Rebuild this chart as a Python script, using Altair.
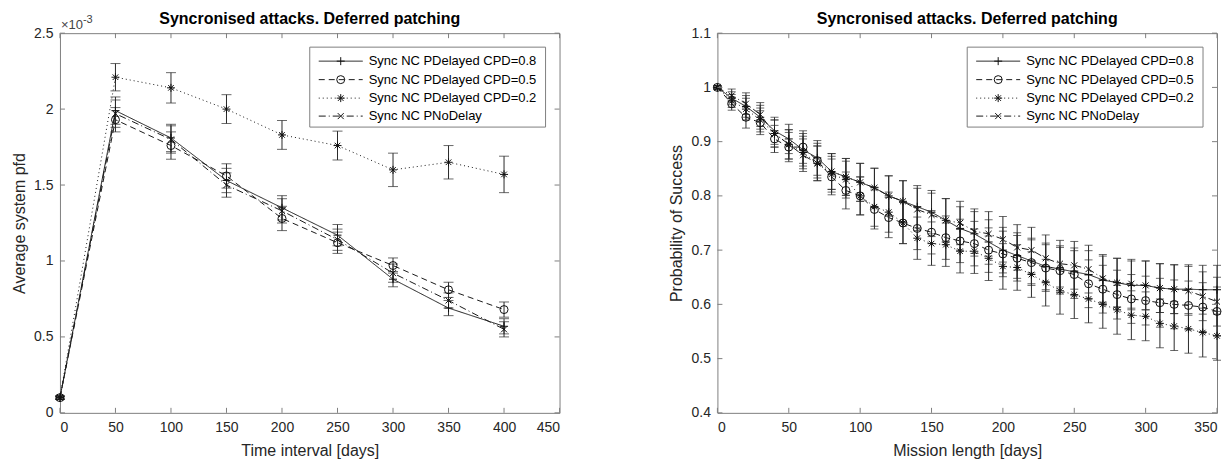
import altair as alt
import pandas as pd

FONT = "Liberation Sans"
TXT = "#262626"
AXC = "#808080"

SERIES = ["Sync NC PDelayed CPD=0.8", "Sync NC PDelayed CPD=0.5",
          "Sync NC PDelayed CPD=0.2", "Sync NC PNoDelay"]
SHAPES = ["M-1,0L1,0M0,-1L0,1", "circle",
          "M-1,0L1,0M0,-1L0,1M-0.7,-0.7L0.7,0.7M-0.7,0.7L0.7,-0.7",
          "M-0.75,-0.75L0.75,0.75M-0.75,0.75L0.75,-0.75"]
DASHES = [[1, 0], [6, 4], [1, 3], [7, 3, 1, 3]]

# ---------------- left panel (values x 1e-3) ----------------
L_X = [0, 50, 100, 150, 200, 250, 300, 350, 400]
L_CPD08 = [0.10, 1.99, 1.81, 1.53, 1.35, 1.17, 0.88, 0.69, 0.57]
L_CPD05 = [0.10, 1.93, 1.76, 1.56, 1.28, 1.12, 0.97, 0.81, 0.68]
L_CPD02 = [0.10, 2.21, 2.14, 2.00, 1.83, 1.76, 1.60, 1.65, 1.57]
L_NODEL = [0.10, 1.97, 1.80, 1.50, 1.33, 1.14, 0.92, 0.74, 0.55]
L_CPD08_ERR = [0.01, 0.09, 0.09, 0.08, 0.08, 0.07, 0.05, 0.05, 0.05]
L_CPD05_ERR = [0.01, 0.08, 0.09, 0.08, 0.08, 0.07, 0.05, 0.05, 0.05]
L_CPD02_ERR = [0.01, 0.09, 0.10, 0.095, 0.095, 0.095, 0.11, 0.11, 0.12]
L_NODEL_ERR = [0.01, 0.09, 0.09, 0.08, 0.08, 0.07, 0.06, 0.05, 0.05]
L_XTICKS = [0, 50, 100, 150, 200, 250, 300, 350, 400, 450]
L_YTICKS = [0, 0.5, 1, 1.5, 2, 2.5]

# ---------------- right panel ----------------
R_X = [0, 10, 20, 30, 40, 50, 60, 70, 80, 90, 100, 110, 120, 130, 140, 150, 160, 170,
       180, 190, 200, 210, 220, 230, 240, 250, 260, 270, 280, 290, 300, 310, 320, 330, 340, 350]
R_CPD08 = [1.0, 0.98, 0.965, 0.945, 0.92, 0.905, 0.885, 0.87, 0.845, 0.835, 0.825, 0.815,
           0.80, 0.79, 0.78, 0.77, 0.755, 0.74, 0.73, 0.715, 0.70, 0.69, 0.68, 0.67, 0.665,
           0.66, 0.655, 0.645, 0.64, 0.635, 0.635, 0.63, 0.628, 0.628, 0.627, 0.627]
R_CPD05 = [1.0, 0.97, 0.945, 0.935, 0.905, 0.89, 0.89, 0.865, 0.835, 0.81, 0.80, 0.775,
           0.76, 0.75, 0.74, 0.733, 0.723, 0.717, 0.712, 0.70, 0.693, 0.685, 0.677, 0.667,
           0.662, 0.655, 0.638, 0.628, 0.618, 0.61, 0.607, 0.603, 0.60, 0.598, 0.595, 0.587]
R_CPD02 = [1.0, 0.975, 0.96, 0.94, 0.915, 0.895, 0.88, 0.86, 0.84, 0.83, 0.80, 0.78,
           0.77, 0.75, 0.722, 0.712, 0.71, 0.698, 0.698, 0.685, 0.67, 0.668, 0.655, 0.64,
           0.625, 0.618, 0.61, 0.60, 0.59, 0.58, 0.578, 0.565, 0.56, 0.555, 0.548, 0.542]
R_NODEL = [1.0, 0.985, 0.97, 0.95, 0.915, 0.895, 0.875, 0.86, 0.845, 0.835, 0.825, 0.815,
           0.80, 0.79, 0.775, 0.765, 0.755, 0.75, 0.735, 0.73, 0.72, 0.705, 0.70, 0.685,
           0.675, 0.672, 0.665, 0.648, 0.64, 0.638, 0.635, 0.63, 0.628, 0.625, 0.615, 0.605]
R_ERR = [0.003, 0.012, 0.02, 0.022, 0.025, 0.027, 0.03, 0.032, 0.033, 0.034, 0.035, 0.036,
         0.037, 0.038, 0.039, 0.04, 0.04, 0.04, 0.041, 0.041, 0.042, 0.042, 0.042, 0.043,
         0.043, 0.044, 0.044, 0.044, 0.045, 0.045, 0.045, 0.045, 0.045, 0.045, 0.045, 0.045]
R_XTICKS = [0, 50, 100, 150, 200, 250, 300, 350]
R_YTICKS = [0.4, 0.5, 0.6, 0.7, 0.8, 0.9, 1.0, 1.1]

TITLE = "Syncronised attacks. Deferred patching"
W, H = 500, 380


def frame(xs, ys_list, errs_list):
    rows = []
    for name, ys, es in zip(SERIES, ys_list, errs_list):
        for x, y, e in zip(xs, ys, es):
            rows.append({"series": name, "x": x, "y": y, "lo": y - e, "hi": y + e})
    return pd.DataFrame(rows)


def panel(df, xdom, ydom, xt, yt, xtitle, ytitle, capw, extra=()):
    xs = alt.Scale(domain=xdom, nice=False, zero=False)
    ys = alt.Scale(domain=ydom, nice=False, zero=False)
    xax = alt.Axis(values=xt, title=xtitle, format="d")
    yax = alt.Axis(values=yt, title=ytitle, format="~g")

    def X(f):
        return alt.X(f + ":Q", scale=xs, axis=xax)

    def Y(f):
        return alt.Y(f + ":Q", scale=ys, axis=yax)

    base = alt.Chart(df)
    lines = base.mark_line(strokeWidth=1, color="#1a1a1a").encode(
        x=X("x"), y=Y("y"),
        strokeDash=alt.StrokeDash("series:N", scale=alt.Scale(domain=SERIES, range=DASHES), legend=None),
    )
    rules = base.mark_rule(strokeWidth=1, color="#2a2a2a").encode(x=X("x"), y=Y("lo"), y2="hi:Q")
    cap_lo = base.mark_tick(orient="horizontal", size=capw, thickness=1, color="#2a2a2a").encode(x=X("x"), y=Y("lo"))
    cap_hi = base.mark_tick(orient="horizontal", size=capw, thickness=1, color="#2a2a2a").encode(x=X("x"), y=Y("hi"))
    pts = base.mark_point(filled=False, size=64, strokeWidth=1, color="#111111", opacity=1).encode(
        x=X("x"), y=Y("y"),
        shape=alt.Shape("series:N", scale=alt.Scale(domain=SERIES, range=SHAPES), legend=None),
    )

    tx = alt.Chart(pd.DataFrame({"t": xt}))
    ty = alt.Chart(pd.DataFrame({"t": yt}))
    tk = dict(color=AXC, strokeWidth=1)
    t1 = tx.mark_rule(**tk).encode(x=X("t"), y=alt.value(H), y2=alt.value(H - 5))
    t2 = tx.mark_rule(**tk).encode(x=X("t"), y=alt.value(0), y2=alt.value(5))
    t3 = ty.mark_rule(**tk).encode(y=Y("t"), x=alt.value(0), x2=alt.value(5))
    t4 = ty.mark_rule(**tk).encode(y=Y("t"), x=alt.value(W), x2=alt.value(W - 5))

    one = pd.DataFrame({"a": [0]})
    ttl = alt.Chart(pd.DataFrame({"title": [TITLE]})).mark_text(
        align="center", baseline="middle", font=FONT, fontSize=16, fontWeight="bold", color="#000000"
    ).encode(x=alt.value(W / 2), y=alt.value(-14), text="title:N")

    # legend
    leg = [alt.Chart(one).mark_rect(fill="white", stroke=AXC, strokeWidth=1).encode(
        x=alt.value(250), x2=alt.value(486), y=alt.value(14), y2=alt.value(94))]
    rows_y = [28, 46.5, 65, 83]
    for name, shp, dash, ry in zip(SERIES, SHAPES, DASHES, rows_y):
        d = alt.Chart(pd.DataFrame({"name": [name]}))
        leg.append(d.mark_rule(strokeWidth=1, color="#1a1a1a", strokeDash=dash).encode(
            x=alt.value(259), x2=alt.value(303), y=alt.value(ry)))
        leg.append(d.mark_point(filled=False, size=64, strokeWidth=1, color="#111111", opacity=1,
                                shape=shp).encode(x=alt.value(281), y=alt.value(ry)))
        leg.append(d.mark_text(align="left", baseline="middle", font=FONT, fontSize=13,
                               color="#000000").encode(x=alt.value(309), y=alt.value(ry), text="name:N"))

    return alt.layer(lines, rules, cap_lo, cap_hi, pts, t1, t2, t3, t4, *leg, ttl, *extra).properties(
        width=W, height=H,
    )


one = pd.DataFrame({"a": [0]})
exp1 = alt.Chart(one).mark_text(align="left", baseline="bottom", font=FONT, fontSize=13, color="#444444").encode(
    x=alt.value(1), y=alt.value(-1), text=alt.value("×10"))
exp2 = alt.Chart(one).mark_text(align="left", baseline="bottom", font=FONT, fontSize=11, color="#444444").encode(
    x=alt.value(23), y=alt.value(-8), text=alt.value("-3"))

left_df = frame(L_X, [L_CPD08, L_CPD05, L_CPD02, L_NODEL], [L_CPD08_ERR, L_CPD05_ERR, L_CPD02_ERR, L_NODEL_ERR])
right_df = frame(R_X, [R_CPD08, R_CPD05, R_CPD02, R_NODEL], [R_ERR] * 4)

left = panel(left_df, [0, 450], [0, 2.5], L_XTICKS, L_YTICKS, "Time interval [days]", "Average system pfd", 10,
             extra=(exp1, exp2))
right = panel(right_df, [0, 350], [0.4, 1.1], R_XTICKS, R_YTICKS, "Mission length [days]", "Probability of Success", 8)

chart = alt.hconcat(left, right, spacing=108).properties(
    padding={"left": 3, "top": 2, "right": 0, "bottom": 0}
).configure_view(stroke=AXC, strokeWidth=1).configure_axis(
    labelFont=FONT, labelFontSize=14, labelColor=TXT, titleFont=FONT, titleFontSize=16,
    titleFontWeight="normal", titleColor=TXT, ticks=False, tickSize=0, domain=False, grid=False,
    labelPadding=8, titlePadding=8,
).configure_axisY(labelPadding=7, titlePadding=6)

chart.save("out.html", embed_options={"renderer": "svg", "actions": False})
